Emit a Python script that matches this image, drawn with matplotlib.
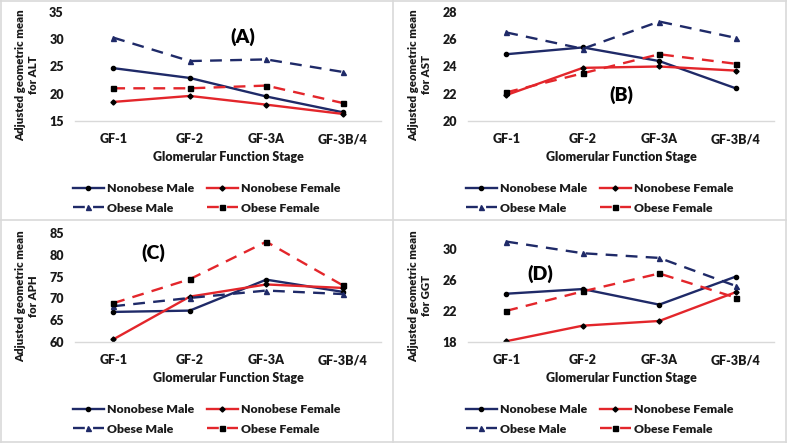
import matplotlib
matplotlib.use("Agg")
import matplotlib.pyplot as plt
from matplotlib.lines import Line2D

stages = ["GF-1", "GF-2", "GF-3A", "GF-3B/4"]

alt_nonobese_male = [24.7, 22.9, 19.5, 16.6]
alt_nonobese_female = [18.5, 19.6, 18.0, 16.3]
alt_obese_male = [30.3, 26.0, 26.3, 24.0]
alt_obese_female = [21.0, 21.0, 21.5, 18.3]

ast_nonobese_male = [24.9, 25.4, 24.4, 22.4]
ast_nonobese_female = [21.9, 23.9, 24.0, 23.7]
ast_obese_male = [26.5, 25.3, 27.3, 26.1]
ast_obese_female = [22.1, 23.5, 24.9, 24.2]

aph_nonobese_male = [66.9, 67.2, 74.3, 71.5]
aph_nonobese_female = [60.6, 70.4, 73.2, 72.4]
aph_obese_male = [68.2, 70.1, 71.8, 71.0]
aph_obese_female = [68.9, 74.4, 83.0, 73.0]

ggt_nonobese_male = [24.2, 24.8, 22.8, 26.4]
ggt_nonobese_female = [18.1, 20.1, 20.7, 24.4]
ggt_obese_male = [30.9, 29.4, 28.8, 25.2]
ggt_obese_female = [22.0, 24.5, 26.8, 23.7]

series_names = ["Nonobese Male", "Nonobese Female", "Obese Male", "Obese Female"]

panels = [
    ("(A)", "ALT", (15, 35), [15, 20, 25, 30, 35],
     [alt_nonobese_male, alt_nonobese_female, alt_obese_male, alt_obese_female]),
    ("(B)", "AST", (20, 28), [20, 22, 24, 26, 28],
     [ast_nonobese_male, ast_nonobese_female, ast_obese_male, ast_obese_female]),
    ("(C)", "APH", (60, 85), [60, 65, 70, 75, 80, 85],
     [aph_nonobese_male, aph_nonobese_female, aph_obese_male, aph_obese_female]),
    ("(D)", "GGT", (18, 32), [18, 22, 26, 30],
     [ggt_nonobese_male, ggt_nonobese_female, ggt_obese_male, ggt_obese_female]),
]

W, H = 787, 443
NAVY = "#1F2A68"
RED = "#E3262B"
TXT = "#1A1A1A"
FONT = "Lato"

styles = [
    dict(color=NAVY, ls="-", marker="o", ms=3.0, mfc="black", mec="black"),
    dict(color=RED, ls="-", marker="D", ms=2.6, mfc="black", mec="black"),
    dict(color=NAVY, ls=(0, (5, 3.5)), marker="^", ms=3.6, mfc=NAVY, mec=NAVY),
    dict(color=RED, ls=(0, (5, 3.5)), marker="s", ms=3.6, mfc="black", mec="black"),
]

fig = plt.figure(figsize=(W / 100, H / 100), dpi=100)
fig.patch.set_facecolor("white")

def fx(px):
    return px / W

def fy(py):
    return 1 - py / H

offsets = [(0, 0), (393, 0), (0, 221), (393, 221)]
label_pos = [(243, 37), (228, 95), (153, 32), (147, 53)]

for (label, name, ylim, yticks, data), (ox, oy), (lx, ly) in zip(panels, offsets, label_pos):
    left, right, top, bottom = 75 + ox, 381 + ox, 12 + oy, 121 + oy
    ax = fig.add_axes([fx(left), fy(bottom), (right - left) / W, (bottom - top) / H])
    x = list(range(len(stages)))
    for vals, st in zip(data, styles):
        ax.plot(x, vals, lw=1.7, **st)
    ax.set_xlim(-0.5, 3.5)
    ax.set_ylim(*ylim)
    ax.set_yticks(yticks)
    ax.set_xticks(x)
    ax.set_xticklabels(stages)
    for s in ["top", "right", "left"]:
        ax.spines[s].set_visible(False)
    ax.spines["bottom"].set_color("#D9D9D9")
    ax.spines["bottom"].set_linewidth(1.0)
    ax.tick_params(length=0, labelsize=9, colors=TXT, pad=8)
    ax.tick_params(axis="x", pad=9)
    for t in ax.get_xticklabels() + ax.get_yticklabels():
        t.set_fontfamily(FONT)
        t.set_fontweight("heavy")
    ax.patch.set_alpha(0)
    ax.set_xlabel("Glomerular Function Stage", fontfamily=FONT, fontweight="heavy",
                  fontsize=9, color=TXT, labelpad=4)
    fig.text(fx(27 + ox), fy(75 + oy), "Adjusted geometric mean\nfor " + name,
             rotation=90, ha="center", va="center", fontfamily=FONT,
             fontweight="heavy", fontsize=8.2, color=TXT, linespacing=1.15)
    fig.text(fx(lx + ox), fy(ly + oy), label, ha="center", va="center",
             fontfamily=FONT, fontweight="heavy", fontsize=14, color="black")
    handles = []
    for st in styles:
        handles.append(Line2D([], [], lw=1.7, **st))
    order = [0, 2, 1, 3]
    leg = fig.legend([handles[i] for i in order], [series_names[i] for i in order],
                     ncol=2, loc="upper left",
                     bbox_to_anchor=(fx(62 + ox), fy(172 + oy)),
                     frameon=False, handlelength=2.5, handletextpad=0.25,
                     columnspacing=1.1, labelspacing=0.7,
                     prop=dict(family=FONT, weight="heavy", size=8.8))
    for t in leg.get_texts():
        t.set_color(TXT)

# panel dividers and outer border
fig.add_artist(Line2D([fx(393), fx(393)], [0, 1], color="#D9D9D9", lw=1.2))
fig.add_artist(Line2D([0, 1], [fy(220), fy(220)], color="#D9D9D9", lw=1.2))
for xs, ys in [([0, 1], [fy(0.6), fy(0.6)]), ([0, 1], [fy(442.4), fy(442.4)]),
               ([fx(0.6), fx(0.6)], [0, 1]), ([fx(786.4), fx(786.4)], [0, 1])]:
    fig.add_artist(Line2D(xs, ys, color="#D9D9D9", lw=1.2))

fig.savefig("out.png", dpi=100, facecolor="white")
